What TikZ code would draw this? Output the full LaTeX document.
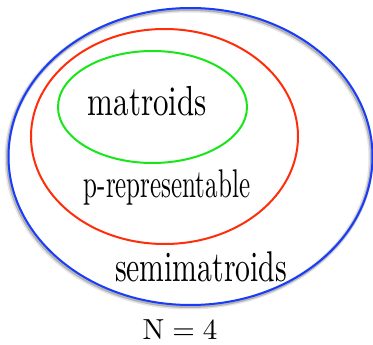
\documentclass[tikz,border=0pt]{standalone}
\usepackage{graphicx}
\definecolor{setblue}{RGB}{25,60,250}
\definecolor{setred}{RGB}{255,45,10}
\definecolor{setgreen}{RGB}{25,230,25}
\begin{document}
\begin{tikzpicture}[x=1pt,y=-1pt,
  setline/.style={line width=2pt},
  lbl/.style={anchor=base,inner sep=0pt,font=\fontsize{10}{12}\selectfont}]
\useasboundingbox (0,0) rectangle (373,345);
% shadow of outer ellipse
\draw[black,opacity=0.10,line width=5pt] (189,158.5) ellipse [x radius=182, y radius=148.5];
\draw[black,opacity=0.22,line width=3pt] (189.5,158) ellipse [x radius=182, y radius=148.5];
% ellipses
\draw[setline,setblue] (190.5,156.5) ellipse [x radius=182, y radius=148.5];
\draw[setline,setred] (164.5,136.5) ellipse [x radius=133.5, y radius=107.5];
\draw[setline,setgreen] (152.5,107) ellipse [x radius=94.5, y radius=56];
% labels
\node[lbl] (mat) at (147.5,116) {\scalebox{3.1}[4.2]{matroids}};
\node[lbl] (prep) at (167,197.5) {\scalebox{2.5}[4.0]{p-representable}};
\node[lbl] (semi) at (201,282) {\scalebox{2.97}[4.3]{semimatroids}};
\node[lbl] (n) at (180,339) {\scalebox{2.9}{$\mathrm{N}=4$}};
\end{tikzpicture}
\end{document}
